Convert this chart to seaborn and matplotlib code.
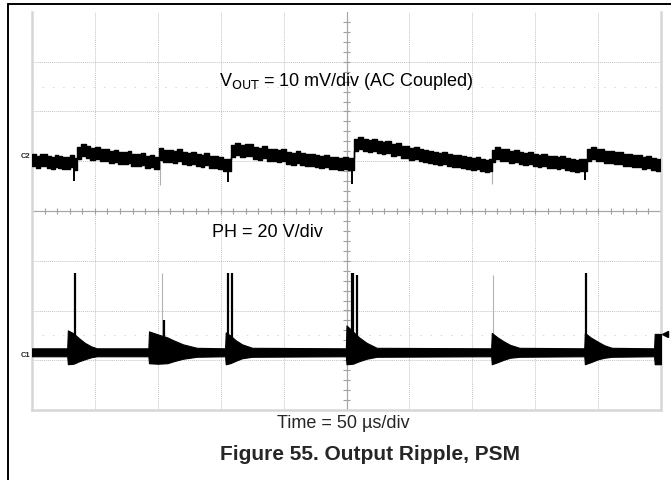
import numpy as np
import matplotlib
matplotlib.use("Agg")
import matplotlib.pyplot as plt
import seaborn as sns
from matplotlib.lines import Line2D

####figure settings####
sns.set_theme(style="white")
plt.rcParams["font.family"] = ["Liberation Sans", "DejaVu Sans"]

####data (divisions: x 0..10, y -4..4)####
# VOUT trace, 10 mV/div, AC coupled: time (div) and trace centre (div)
vout_t = [0.00, 0.06, 0.12, 0.18, 0.24, 0.30, 0.36, 0.42, 0.48, 0.54, 0.60, 0.66,
          0.72, 0.78, 0.86, 0.92, 1.00, 1.08, 1.14, 1.22, 1.30, 1.36, 1.44, 1.52,
          1.58, 1.66, 1.74, 1.80, 1.88, 1.94,
          2.02, 2.08, 2.16, 2.24, 2.30, 2.38, 2.46, 2.52, 2.60, 2.68, 2.74, 2.82,
          2.90, 2.96, 3.04,
          3.16, 3.22, 3.30, 3.38, 3.44, 3.52, 3.60, 3.66, 3.74, 3.82, 3.90, 3.96,
          4.04, 4.12, 4.20, 4.26, 4.34, 4.42, 4.50, 4.56, 4.64, 4.72, 4.80, 4.86,
          4.94, 5.02,
          5.12, 5.18, 5.26, 5.34, 5.40, 5.48, 5.56, 5.62, 5.70, 5.78, 5.86, 5.92,
          6.00, 6.08, 6.16, 6.22, 6.30, 6.38, 6.46, 6.52, 6.60, 6.68, 6.76, 6.82,
          6.90, 6.98, 7.06, 7.12, 7.20, 7.26,
          7.31, 7.36, 7.44, 7.52, 7.58, 7.66, 7.74, 7.80, 7.88, 7.96, 8.04, 8.10,
          8.18, 8.26, 8.34, 8.40, 8.48, 8.56, 8.64, 8.70,
          8.82, 8.88, 8.96, 9.04, 9.10, 9.18, 9.26, 9.32, 9.40, 9.48, 9.54, 9.62,
          9.70, 9.76, 9.84, 9.92, 10.0]
vout_v = [1.02, 0.99, 1.03, 1.03, 0.98, 0.97, 1.01, 0.99, 0.96, 0.97, 1.00, 0.94,
          1.17, 1.22, 1.18, 1.14, 1.16, 1.12, 1.12, 1.08, 1.11, 1.06, 1.06, 1.08,
          1.03, 1.02, 1.05, 0.99, 1.00, 0.96,
          1.14, 1.11, 1.11, 1.08, 1.12, 1.06, 1.05, 1.07, 1.03, 1.01, 1.04, 0.99,
          0.98, 0.97, 0.93,
          1.21, 1.25, 1.20, 1.22, 1.22, 1.17, 1.15, 1.18, 1.13, 1.13, 1.10, 1.12,
          1.07, 1.05, 1.08, 1.04, 1.02, 1.03, 1.00, 0.98, 1.00, 0.96, 0.97, 0.94,
          0.96, 0.95,
          1.32, 1.36, 1.33, 1.31, 1.33, 1.28, 1.27, 1.28, 1.23, 1.24, 1.19, 1.18,
          1.15, 1.17, 1.12, 1.10, 1.09, 1.06, 1.05, 1.07, 1.02, 1.00, 1.01, 0.98,
          0.97, 0.95, 0.96, 0.93, 0.91, 0.93,
          1.11, 1.16, 1.13, 1.12, 1.09, 1.10, 1.07, 1.05, 1.06, 1.03, 1.01, 1.02,
          0.99, 0.98, 0.96, 0.98, 0.94, 0.93, 0.91, 0.92,
          1.13, 1.16, 1.12, 1.12, 1.09, 1.08, 1.06, 1.07, 1.03, 1.02, 1.00, 1.01,
          0.97, 0.98, 0.94, 0.92, 0.93]
# downward glitches on VOUT: time, bottom
vout_dip_t = [0.67, 3.12, 5.09, 8.79]
vout_dip_v = [0.60, 0.58, 0.54, 0.62]
vout_ghost_t = [2.03, 7.31]
vout_ghost_v = [0.52, 0.55]

# PH trace, 20 V/div: time, upper envelope, lower envelope
ph_t = [0.00, 0.56, 0.57, 0.66, 0.75, 0.84, 0.94, 1.03,
        1.85, 1.86, 2.00, 2.15, 2.25, 2.40, 2.62,
        3.07, 3.08, 3.15, 3.24, 3.34, 3.50,
        4.99, 5.00, 5.10, 5.20, 5.32, 5.48,
        7.30, 7.31, 7.40, 7.50, 7.60, 7.75,
        8.78, 8.79, 8.88, 9.00, 9.10, 9.22,
        9.89, 9.90, 10.0]
ph_top = [-2.76, -2.76, -2.40, -2.46, -2.56, -2.65, -2.72, -2.76,
          -2.76, -2.42, -2.48, -2.54, -2.60, -2.68, -2.75,
          -2.76, -2.44, -2.50, -2.60, -2.68, -2.75,
          -2.76, -2.30, -2.42, -2.54, -2.65, -2.75,
          -2.76, -2.45, -2.54, -2.62, -2.69, -2.75,
          -2.76, -2.45, -2.54, -2.63, -2.70, -2.75,
          -2.76, -2.47, -2.47]
ph_bot = [-2.92, -2.92, -3.08, -3.07, -3.02, -2.98, -2.94, -2.92,
          -2.92, -3.06, -3.07, -3.06, -3.02, -2.97, -2.93,
          -2.92, -3.08, -3.06, -3.01, -2.96, -2.93,
          -2.92, -3.08, -3.07, -3.02, -2.97, -2.93,
          -2.92, -3.08, -3.04, -2.99, -2.95, -2.93,
          -2.92, -3.08, -3.04, -2.98, -2.95, -2.93,
          -2.92, -3.08, -3.08]
# switching spikes on PH: time, peak
spike_t = [0.68, 2.10, 3.11, 3.18, 5.08, 5.10, 5.17, 8.80]
spike_v = [-1.25, -2.19, -1.25, -1.25, -1.25, -1.25, -1.29, -1.25]
ghost_t = [2.06, 7.33]
ghost_v = [-1.25, -1.28]

####plotting####
fig = plt.figure(figsize=(6.71, 4.80), dpi=100)
ax = fig.add_axes([32 / 671, 70 / 480, 629 / 671, 398 / 480])
ax.set_xlim(0, 10)
ax.set_ylim(-4, 4)

# graticule
grid_c = "#c4c4c4"
for gx in range(1, 10):
    if gx != 5:
        ax.axvline(gx, color=grid_c, lw=0.7, ls=(0, (1, 1)), zorder=0)
for gy in range(-3, 4):
    if gy != 0:
        ax.axhline(gy, color=grid_c, lw=0.7, ls=(0, (1, 1)), zorder=0)
for gy in [2.5, -2.5]:
    ax.axhline(gy, color="#d8d8d8", lw=0.7, ls=(0, (1.5, 9)), zorder=0)
ax.axvline(5, color="#a8a8a8", lw=0.9, zorder=0)
ax.axhline(0, color="#a8a8a8", lw=0.9, zorder=0)
minor = np.arange(0.2, 10, 0.2)
ax.vlines(minor, -0.06, 0.06, color="#a0a0a0", lw=0.8, zorder=0)
minor_y = np.arange(-3.8, 4, 0.2)
ax.hlines(minor_y, 4.95, 5.05, color="#a0a0a0", lw=0.8, zorder=0)

for side in ["left", "bottom", "right"]:
    ax.spines[side].set_color("#d6d6d6")
    ax.spines[side].set_linewidth(1.8)
ax.spines["top"].set_visible(False)
ax.set_xticks([])
ax.set_yticks([])

# VOUT trace
vout_v = np.array(vout_v)
half = 0.12
ax.fill_between(vout_t, vout_v - half, vout_v + half, step="post", color="black", lw=0, zorder=3)
sns.lineplot(x=vout_t, y=vout_v + half, drawstyle="steps-post", sort=False, estimator=None,
             color="black", lw=1.0, ax=ax, zorder=3)
sns.lineplot(x=vout_t, y=vout_v - half, drawstyle="steps-post", sort=False, estimator=None,
             color="black", lw=1.0, ax=ax, zorder=3)
ax.vlines(vout_dip_t, vout_dip_v, 1.0, color="black", lw=1.4, zorder=3)
ax.vlines(vout_ghost_t, vout_ghost_v, 1.0, color="#b0b0b0", lw=0.8, zorder=2)

# PH trace
ax.fill_between(ph_t, ph_bot, ph_top, color="black", lw=0.8, edgecolor="black", zorder=3)
ax.vlines(spike_t, -2.8, spike_v, color="black", lw=1.6, zorder=3)
ax.vlines(ghost_t, -2.8, ghost_v, color="#b4b4b4", lw=0.8, zorder=2)
ax.plot([10.07], [-2.47], marker="<", color="black", ms=4, clip_on=False, zorder=4)

# channel markers
ax.text(-0.03, 1.1, "C2", fontsize=5.5, fontweight="bold", ha="right", va="center")
ax.text(-0.03, -2.9, "C1", fontsize=5.5, fontweight="bold", ha="right", va="center")

# labels
ax.text(5.0, 2.61, r"V$_{\mathrm{OUT}}$ = 10 mV/div (AC Coupled)", fontsize=13,
        ha="center", va="center", color="black")
ax.text(3.75, -0.44, "PH = 20 V/div", fontsize=13, ha="center", va="center", color="black")
fig.text(343 / 671, 1 - 424 / 480, "Time = 50 µs/div", fontsize=13, ha="center", va="center")
fig.text(370 / 671, 1 - 455 / 480, "Figure 55. Output Ripple, PSM", fontsize=15,
         fontweight="bold", ha="center", va="center")

# outer frame
fig.add_artist(Line2D([8 / 671, 8 / 671], [0, 1 - 4 / 480], color="black", lw=1.4))
fig.add_artist(Line2D([8 / 671, 1], [1 - 4 / 480, 1 - 4 / 480], color="black", lw=1.4))

plt.savefig("out.png", dpi=100)
